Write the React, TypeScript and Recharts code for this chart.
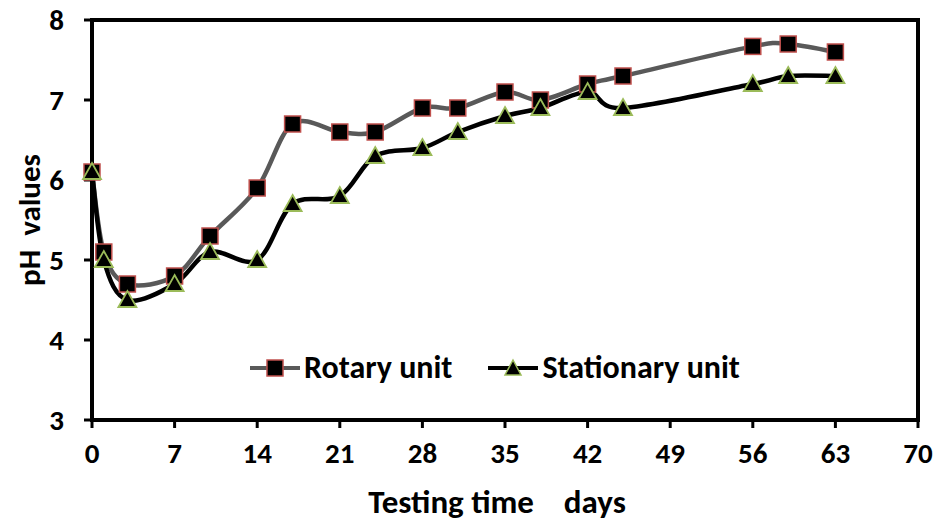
import { LineChart, Line, XAxis, YAxis, ReferenceArea } from "recharts";

const days = [0, 1, 3, 7, 10, 14, 17, 21, 24, 28, 31, 35, 38, 42, 45, 56, 59, 63];
const rotary = [6.1, 5.1, 4.7, 4.8, 5.3, 5.9, 6.7, 6.6, 6.6, 6.9, 6.9, 7.1, 7.0, 7.2, 7.3, 7.67, 7.7, 7.6];
const stationary = [6.1, 5.0, 4.5, 4.7, 5.1, 5.0, 5.7, 5.8, 6.3, 6.4, 6.6, 6.8, 6.9, 7.1, 6.9, 7.2, 7.3, 7.3];
const xTicks = [0, 7, 14, 21, 28, 35, 42, 49, 56, 63, 70];
const yTicks = [3, 4, 5, 6, 7, 8];

const chartData = days.map((d, i) => ({ day: d, rotary: rotary[i], stationary: stationary[i] }));

const FONT = "Carlito, Lato, 'Noto Sans', sans-serif";
const ROTARY_LINE = "#595959";
const ROTARY_EDGE = "#c0504d";
const STAT_EDGE = "#9bbb59";

// Excel-like smoothing (Catmull-Rom through every point)
const smoothCurve = (context: any) => {
  let pts: number[][] = [];
  return {
    areaStart() {},
    areaEnd() {},
    lineStart() {
      pts = [];
    },
    lineEnd() {
      if (!pts.length) return;
      context.moveTo(pts[0][0], pts[0][1]);
      for (let i = 0; i < pts.length - 1; i++) {
        const p0 = pts[i - 1] || pts[i];
        const p1 = pts[i];
        const p2 = pts[i + 1];
        const p3 = pts[i + 2] || p2;
        context.bezierCurveTo(
          p1[0] + (p2[0] - p0[0]) / 6,
          p1[1] + (p2[1] - p0[1]) / 6,
          p2[0] - (p3[0] - p1[0]) / 6,
          p2[1] - (p3[1] - p1[1]) / 6,
          p2[0],
          p2[1]
        );
      }
    },
    point(x: number, y: number) {
      pts.push([+x, +y]);
    },
  };
};

const SquareDot = (props: any) => {
  const { cx, cy, index } = props;
  if (cx == null || cy == null) return null;
  return (
    <rect key={`sq-${index}`} x={cx - 8} y={cy - 8} width={16} height={16}
      fill="#000" stroke={ROTARY_EDGE} strokeWidth={1.5} />
  );
};

const TriangleDot = (props: any) => {
  const { cx, cy, index } = props;
  if (cx == null || cy == null) return null;
  return (
    <polygon key={`tr-${index}`}
      points={`${cx},${cy - 9} ${cx + 9},${cy + 7} ${cx - 9},${cy + 7}`}
      fill="#000" stroke={STAT_EDGE} strokeWidth={1.8} strokeLinejoin="miter" />
  );
};

const ChartLegend = () => (
  <div style={{ position: "absolute", left: 250, top: 352, display: "flex", alignItems: "center", fontFamily: FONT, fontWeight: 700, fontSize: 32, color: "#000", lineHeight: "32px" }}>
    <svg width={50} height={24}>
      <line x1={0} y1={12} x2={50} y2={12} stroke={ROTARY_LINE} strokeWidth={4} />
      <rect x={17} y={4} width={16} height={16} fill="#000" stroke={ROTARY_EDGE} strokeWidth={1.5} />
    </svg>
    <span style={{ marginLeft: 4 }}>Rotary unit</span>
    <svg width={50} height={24} style={{ marginLeft: 36 }}>
      <line x1={0} y1={12} x2={50} y2={12} stroke="#000" strokeWidth={4} />
      <polygon points="25,4 33,19 17,19" fill="#000" stroke={STAT_EDGE} strokeWidth={1.5} />
    </svg>
    <span style={{ marginLeft: 4 }}>Stationary unit</span>
  </div>
);

const tickStyle = { fill: "#000", fontSize: 29, fontWeight: 700, fontFamily: FONT };

export default function App() {
  return (
    <div style={{ position: "absolute", left: 0, top: 0, width: 936, height: 521, background: "#fff" }}>
      <LineChart width={936} height={521} data={chartData} margin={{ top: 20, right: 18, left: 0, bottom: 0 }}>
        <ReferenceArea x1={0} x2={70} y1={3} y2={8} fill="none" stroke="#000" strokeWidth={4} />
        <XAxis
          dataKey="day"
          type="number"
          domain={[0, 70]}
          ticks={xTicks}
          height={101}
          axisLine={{ stroke: "#000", strokeWidth: 4 }}
          tickLine={{ stroke: "#000", strokeWidth: 3 }}
          tickSize={8}
          tickMargin={14}
          tick={tickStyle}
          label={(p: any) => {
            const vb = p.viewBox || {};
            return (
              <text x={vb.x + vb.width / 2 - 8} y={513} textAnchor="middle"
                fontFamily={FONT} fontSize={33} fontWeight={700} fill="#000">
                Testing time{"\u00a0\u00a0\u00a0\u00a0"}days
              </text>
            );
          }}
        />
        <YAxis
          type="number"
          domain={[3, 8]}
          ticks={yTicks}
          width={92}
          axisLine={{ stroke: "#000", strokeWidth: 4 }}
          tickLine={{ stroke: "#000", strokeWidth: 3 }}
          tickSize={8}
          tickMargin={20}
          tick={tickStyle}
          label={(p: any) => {
            const vb = p.viewBox || {};
            const cy = vb.y + vb.height / 2;
            return (
              <text x={40} y={cy} transform={`rotate(-90, 40, ${cy})`} textAnchor="middle"
                fontFamily={FONT} fontSize={31} fontWeight={700} fill="#000">
                pH{"\u00a0\u00a0"}values
              </text>
            );
          }}
        />
        <Line
          dataKey="rotary"
          type={smoothCurve as any}
          stroke={ROTARY_LINE}
          strokeWidth={4.5}
          dot={<SquareDot />}
          activeDot={false}
          isAnimationActive={false}
        />
        <Line
          dataKey="stationary"
          type={smoothCurve as any}
          stroke="#000"
          strokeWidth={4.5}
          dot={<TriangleDot />}
          activeDot={false}
          isAnimationActive={false}
        />
      </LineChart>
      <ChartLegend />
    </div>
  );
}
